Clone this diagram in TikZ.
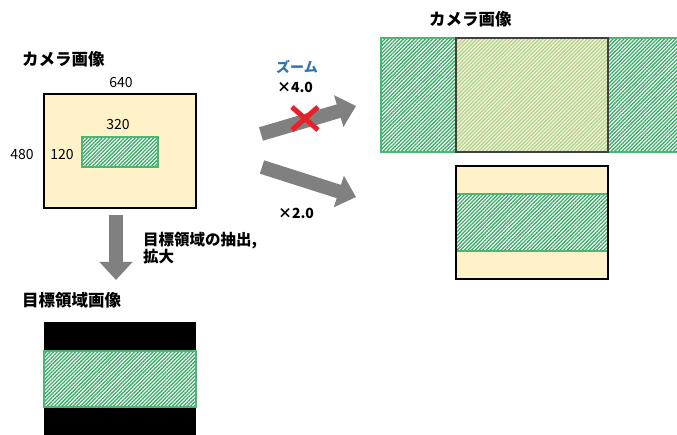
\documentclass[tikz,border=0pt]{standalone}
\usepackage{fontspec}
\setmainfont{Noto Sans CJK JP}
\usetikzlibrary{arrows.meta,patterns.meta}
\definecolor{camyellow}{RGB}{255,242,200}
\definecolor{hatchgreen}{RGB}{56,170,100}
\definecolor{edgegreen}{RGB}{76,182,116}
\definecolor{palegreen}{RGB}{170,214,160}
\definecolor{arrowgray}{RGB}{128,128,128}
\definecolor{crossred}{RGB}{232,32,42}
\definecolor{zoomblue}{RGB}{46,117,182}

\begin{document}
\begin{tikzpicture}[x=1pt,y=-1pt,
        title/.style={font=\fontsize{16.5}{18}\selectfont\bfseries, anchor=west, inner sep=0pt},
        size/.style={font=\fontsize{14}{16}\selectfont, inner sep=0pt},
        rate/.style={font=\fontsize{14}{16}\selectfont\bfseries, inner sep=0pt},
        hatch/.style={preaction={fill=white}, pattern={Lines[angle=45,distance=2.6pt,line width=1.3pt]}, pattern color=hatchgreen},
        blockarrow/.style={arrowgray, line width=14pt, -{Triangle[width=32pt,length=18pt]}}]
        \useasboundingbox (0,0) rectangle (677,435);

        \node[title] (camL) at (22,59) {カメラ画像};
        \filldraw[fill=camyellow, draw=black, line width=1.2pt] (44,94) rectangle (196,208);
        \draw[hatch, draw=edgegreen, line width=1.5pt] (82,137) rectangle (158,167);
        \node[size] (w640) at (121,83) {640};
        \node[size] (h480) at (22,155) {480};
        \node[size] (w320) at (118,125) {320};
        \node[size] (h120) at (62,155) {120};

        \coordinate (cutS) at (116,215);
        \coordinate (cutE) at (116,280);
        \draw[blockarrow] (cutS) -- (cutE);
        \node[anchor=west, inner sep=0pt, font=\fontsize{15.5}{17}\selectfont\bfseries, align=left] (extract) at (143,248) {目標領域の抽出,\\拡大};

        \node[title] (tgtL) at (22,300) {目標領域画像};
        \fill[black] (44,322) rectangle (196,436);
        \draw[hatch, draw=edgegreen, line width=1.5pt] (44,351) rectangle (196,407);

        \coordinate (upS) at (261,134);
        \coordinate (upE) at (356,106);
        \draw[blockarrow] (upS) -- (upE);
        \coordinate (dnS) at (262,167);
        \coordinate (dnE) at (356,197);
        \draw[blockarrow] (dnS) -- (dnE);
        \draw[crossred, line width=5pt] (292,107) -- (318,130) (318,107) -- (292,130);
        \node[rate, text=zoomblue] (zoom) at (297,67) {ズーム};
        \node[rate] (x40) at (295,87) {×4.0};
        \node[rate] (x20) at (296,213) {×2.0};

        \node[title] (camR) at (429,19) {カメラ画像};
        \draw[hatch, draw=edgegreen, line width=1.5pt] (381,38) rectangle (680,152);
        \draw[preaction={fill=camyellow}, pattern={Lines[angle=45,distance=2.6pt,line width=1.3pt]}, pattern color=palegreen, draw=darkgray, line width=1.2pt] (456,38) rectangle (608,152);
        \fill[camyellow] (456,166) rectangle (608,279);
        \draw[hatch, draw=edgegreen, line width=1.5pt] (456,194) rectangle (608,251);
        \draw[black, line width=1.2pt] (456,166) rectangle (608,279);
\end{tikzpicture}
\end{document}
